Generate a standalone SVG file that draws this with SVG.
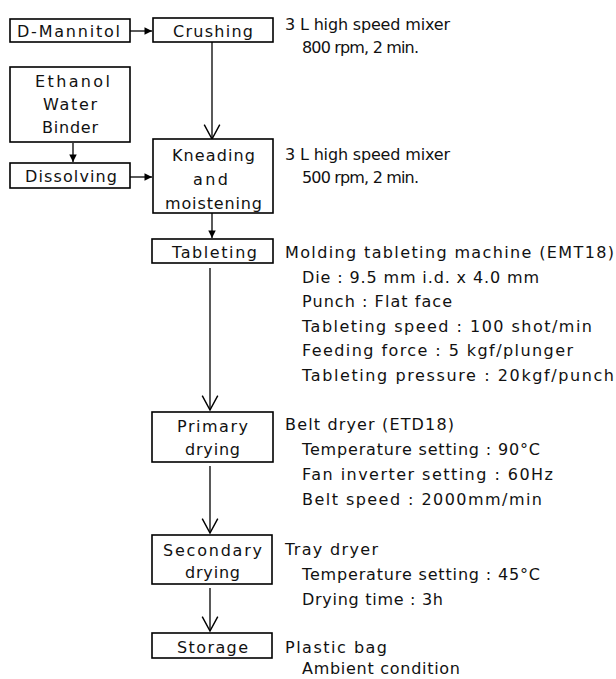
<svg xmlns="http://www.w3.org/2000/svg" width="616" height="679" viewBox="0 0 616 679">
<style>
  .box { fill: #fff; stroke: #000; stroke-width: 1.6; }
  .lbl { font-family: "DejaVu Sans", "Liberation Sans", sans-serif; font-size: 16px; fill: #111; }
  .edge { fill: none; stroke: #000; stroke-width: 1.3; }
</style>
<defs>
  <marker id="vhead" markerUnits="userSpaceOnUse" markerWidth="20" markerHeight="20" viewBox="-15 -9 17 18" refX="0" refY="0" orient="auto">
    <path d="M-13,-7 L0,0 L-13,7" fill="none" stroke="#000" stroke-width="1.3"/>
  </marker>
  <marker id="shead" markerUnits="userSpaceOnUse" markerWidth="10" markerHeight="10" viewBox="-7 -4 8 8" refX="0" refY="0" orient="auto">
    <path d="M-6,-3 L0,0 L-6,3 Z" fill="#000"/>
  </marker>
</defs>
<rect width="616" height="679" fill="#fff"/>

<g id="connectors">
  <line class="edge" x1="130" y1="31" x2="152" y2="31" marker-end="url(#shead)"/>
  <line class="edge" x1="212" y1="42" x2="212" y2="139" marker-end="url(#vhead)"/>
  <line class="edge" x1="73" y1="143" x2="73" y2="162" marker-end="url(#shead)"/>
  <line class="edge" x1="130" y1="177" x2="152" y2="177" marker-end="url(#shead)"/>
  <line class="edge" x1="212" y1="213" x2="212" y2="238" marker-end="url(#shead)"/>
  <line class="edge" x1="210" y1="268" x2="210" y2="410" marker-end="url(#vhead)"/>
  <line class="edge" x1="210" y1="466" x2="210" y2="533" marker-end="url(#vhead)"/>
  <line class="edge" x1="210" y1="588" x2="210" y2="631" marker-end="url(#vhead)"/>
</g>

<g id="node-dmannitol">
  <rect class="box" x="10" y="19" width="120" height="23"/>
  <text class="lbl" x="17" y="37" textLength="103" lengthAdjust="spacing">D-Mannitol</text>
</g>
<g id="node-crushing">
  <rect class="box" x="153" y="18" width="120" height="24"/>
  <text class="lbl" x="173" y="37" textLength="80" lengthAdjust="spacing">Crushing</text>
  <text class="lbl" x="285" y="30" textLength="165" lengthAdjust="spacing">3 L high speed mixer</text>
  <text class="lbl" x="302" y="53" textLength="117" lengthAdjust="spacing">800 rpm, 2 min.</text>
</g>
<g id="node-ethanol">
  <rect class="box" x="10" y="67" width="120" height="75"/>
  <text class="lbl" x="35" y="87" textLength="75" lengthAdjust="spacing">Ethanol</text>
  <text class="lbl" x="43" y="110" textLength="54" lengthAdjust="spacing">Water</text>
  <text class="lbl" x="42" y="133" textLength="56" lengthAdjust="spacing">Binder</text>
</g>
<g id="node-dissolving">
  <rect class="box" x="10" y="163" width="120" height="25"/>
  <text class="lbl" x="25" y="182" textLength="92" lengthAdjust="spacing">Dissolving</text>
</g>
<g id="node-kneading">
  <rect class="box" x="153" y="139" width="120" height="74"/>
  <text class="lbl" x="172" y="161" textLength="83" lengthAdjust="spacing">Kneading</text>
  <text class="lbl" x="193" y="185" textLength="35" lengthAdjust="spacing">and</text>
  <text class="lbl" x="165" y="209" textLength="97" lengthAdjust="spacing">moistening</text>
  <text class="lbl" x="285" y="160" textLength="165" lengthAdjust="spacing">3 L high speed mixer</text>
  <text class="lbl" x="302" y="183" textLength="117" lengthAdjust="spacing">500 rpm, 2 min.</text>
</g>
<g id="node-tableting">
  <rect class="box" x="152" y="239" width="121" height="24"/>
  <text class="lbl" x="172" y="258" textLength="85" lengthAdjust="spacing">Tableting</text>
  <text class="lbl" x="285" y="258" textLength="329" lengthAdjust="spacing">Molding tableting machine (EMT18)</text>
  <text class="lbl" x="302" y="282.5" textLength="237" lengthAdjust="spacing">Die : 9.5 mm i.d. x 4.0 mm</text>
  <text class="lbl" x="302" y="307" textLength="150" lengthAdjust="spacing">Punch : Flat face</text>
  <text class="lbl" x="302" y="331.5" textLength="290" lengthAdjust="spacing">Tableting speed : 100 shot/min</text>
  <text class="lbl" x="302" y="356" textLength="271" lengthAdjust="spacing">Feeding force : 5 kgf/plunger</text>
  <text class="lbl" x="302" y="380.5" textLength="312" lengthAdjust="spacing">Tableting pressure : 20kgf/punch</text>
</g>
<g id="node-primary">
  <rect class="box" x="152" y="412" width="121" height="50"/>
  <text class="lbl" x="177" y="432" textLength="71" lengthAdjust="spacing">Primary</text>
  <text class="lbl" x="185" y="455" textLength="55" lengthAdjust="spacing">drying</text>
  <text class="lbl" x="285" y="430" textLength="169" lengthAdjust="spacing">Belt dryer (ETD18)</text>
  <text class="lbl" x="302" y="455" textLength="238" lengthAdjust="spacing">Temperature setting : 90°C</text>
  <text class="lbl" x="302" y="480" textLength="251" lengthAdjust="spacing">Fan inverter setting : 60Hz</text>
  <text class="lbl" x="302" y="505" textLength="240" lengthAdjust="spacing">Belt speed : 2000mm/min</text>
</g>
<g id="node-secondary">
  <rect class="box" x="152" y="535" width="120" height="49"/>
  <text class="lbl" x="163" y="556" textLength="99" lengthAdjust="spacing">Secondary</text>
  <text class="lbl" x="185" y="578" textLength="55" lengthAdjust="spacing">drying</text>
  <text class="lbl" x="285" y="555" textLength="93" lengthAdjust="spacing">Tray dryer</text>
  <text class="lbl" x="302" y="580" textLength="238" lengthAdjust="spacing">Temperature setting : 45°C</text>
  <text class="lbl" x="302" y="605" textLength="141" lengthAdjust="spacing">Drying time : 3h</text>
</g>
<g id="node-storage">
  <rect class="box" x="152" y="633" width="120" height="25"/>
  <text class="lbl" x="177" y="653" textLength="71" lengthAdjust="spacing">Storage</text>
  <text class="lbl" x="285" y="653" textLength="102" lengthAdjust="spacing">Plastic bag</text>
  <text class="lbl" x="302" y="674" textLength="158" lengthAdjust="spacing">Ambient condition</text>
</g>
</svg>
